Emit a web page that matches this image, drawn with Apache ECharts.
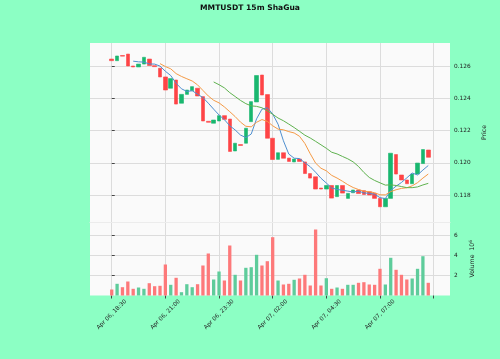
<!DOCTYPE html>
<html><head><meta charset="utf-8">
<script src="https://cdn.jsdelivr.net/npm/echarts@6/dist/echarts.min.js"></script>
<style>html,body{margin:0;padding:0;background:#8cffc4}#c{width:500px;height:359px}</style>
</head><body><div id="c"></div>
<script>
// ---- data ----
const opens = [0.12643,0.12633,0.12665,0.12674,0.12600,0.12594,0.12612,0.12643,0.12602,0.12586,
  0.12532,0.12462,0.12513,0.12369,0.12424,0.12447,0.12462,0.12410,0.12257,0.12245,
  0.12259,0.12292,0.12271,0.12073,0.12113,0.12121,0.12255,0.12377,0.12544,0.12423,
  0.12152,0.12021,0.12062,0.12029,0.12005,0.12023,0.12005,0.11933,0.11913,0.11843,
  0.11837,0.11859,0.11790,0.11859,0.11779,0.11814,0.11831,0.11827,0.11820,0.11810,
  0.11779,0.11727,0.11779,0.12051,0.11924,0.11893,0.11870,0.11930,0.11995,0.12079];
const closes = [0.12633,0.12662,0.12661,0.12600,0.12594,0.12612,0.12654,0.12603,0.12596,0.12532,
  0.12451,0.12522,0.12364,0.12424,0.12451,0.12472,0.12414,0.12259,0.12251,0.12265,
  0.12292,0.12269,0.12070,0.12121,0.12107,0.12214,0.12379,0.12541,0.12420,0.12152,
  0.12020,0.12062,0.12028,0.12008,0.12023,0.12008,0.11933,0.11905,0.11837,0.11837,
  0.11859,0.11781,0.11859,0.11812,0.11810,0.11831,0.11809,0.11803,0.11800,0.11779,
  0.11727,0.11779,0.12059,0.11930,0.11893,0.11870,0.11930,0.11998,0.12082,0.12034];
const lows = [0.12625,0.12623,0.12627,0.12569,0.12586,0.12580,0.12600,0.12581,0.12588,0.12526,
  0.12383,0.12400,0.12341,0.12361,0.12408,0.12439,0.12389,0.12253,0.12153,0.12203,
  0.12240,0.12259,0.12067,0.12067,0.12091,0.12110,0.12253,0.12364,0.12348,0.12131,
  0.11955,0.11975,0.12005,0.11975,0.11955,0.11955,0.11924,0.11893,0.11738,0.11819,
  0.11794,0.11769,0.11781,0.11794,0.11769,0.11806,0.11794,0.11794,0.11744,0.11769,
  0.11679,0.11690,0.11775,0.11918,0.11881,0.11862,0.11862,0.11918,0.11986,0.11998];
const highs = [0.12656,0.12689,0.12693,0.12681,0.12617,0.12627,0.12668,0.12651,0.12619,0.12643,
  0.12538,0.12534,0.12519,0.12439,0.12496,0.12503,0.12478,0.12447,0.12302,0.12296,
  0.12309,0.12317,0.12327,0.12135,0.12141,0.12253,0.12420,0.12596,0.12555,0.12433,
  0.12160,0.12079,0.12091,0.12060,0.12060,0.12048,0.12029,0.11955,0.11924,0.11862,
  0.11874,0.11868,0.11874,0.11868,0.11825,0.11843,0.11881,0.11843,0.11837,0.11819,
  0.11831,0.11794,0.12083,0.12083,0.11936,0.11905,0.11936,0.12060,0.12152,0.12162];
const volumes = [0.6,1.17,0.83,1.4,0.67,0.8,0.67,1.23,0.93,0.97,
  3.1,1.07,1.77,0.33,1.13,0.83,1.13,3.0,4.2,1.6,
  2.4,1.5,5.0,2.07,1.5,2.77,2.83,4.07,3.0,3.43,
  5.83,1.5,1.1,1.17,1.57,1.7,2.07,1.0,6.6,1.0,
  1.73,0.67,0.8,0.67,1.07,1.07,1.27,1.33,1.1,1.07,
  2.67,1.1,3.77,2.57,2.07,1.6,1.7,2.67,3.93,1.27];
const tickIndex = [0,10,20,30,40,50,60];
const tickLabels = ['Apr 06, 18:30','Apr 06, 21:00','Apr 06, 23:30','Apr 07, 02:00','Apr 07, 04:30','Apr 07, 07:00',''];
const priceTicks = [0.118,0.120,0.122,0.124,0.126];
const volumeTicks = [2,4,6];
const maPeriods = [5,10,20];
const maColors = ['#4f8fcf','#f59a45','#5fb24f'];

// ---- build ----
const UP='#19b76f', DOWN='#fe4446', VUP='#5ecc9b', VDOWN='#fd797a', WICK='#8c8c8c';
const n = closes.length;
const wickData = [], bodyData = [], volData = [];
for (let i=0;i<n;i++){
  wickData.push([i, lows[i], highs[i], lows[i], highs[i]]);
  const up = closes[i] >= opens[i];
  bodyData.push({value:[i, opens[i], closes[i], Math.min(opens[i],closes[i]), Math.max(opens[i],closes[i])]});
  volData.push({value:[i, volumes[i]], itemStyle:{color: up?VUP:VDOWN}});
}
function ma(p){
  const out=[];
  for(let i=p-1;i<n;i++){let s=0;for(let k=i-p+1;k<=i;k++)s+=closes[k];out.push([i,s/p]);}
  return out;
}
const font='DejaVu Sans';
const gridLine={show:true,lineStyle:{color:'#dcdcdc',width:1}};
const xMin=-4.05, xMax=63.05;
const series=[
  {type:'candlestick',xAxisIndex:0,yAxisIndex:0,data:wickData,encode:{x:0,y:[1,2,3,4]},barWidth:1,
   itemStyle:{color:WICK,color0:WICK,borderColor:WICK,borderColor0:WICK,borderWidth:0},silent:true,z:2},
  {type:'candlestick',xAxisIndex:0,yAxisIndex:0,data:bodyData,encode:{x:0,y:[1,2,3,4]},barWidth:4,
   itemStyle:{color:UP,color0:DOWN,borderColor:UP,borderColor0:DOWN,borderWidth:0.6},silent:true,z:3},
  {type:'bar',xAxisIndex:1,yAxisIndex:1,data:volData,barWidth:3.3,silent:true}
];
maPeriods.forEach((p,k)=>series.push({type:'line',xAxisIndex:0,yAxisIndex:0,data:ma(p),showSymbol:false,
  lineStyle:{width:1,color:maColors[k]},silent:true,z:4}));

const chart=echarts.init(document.getElementById('c'),null,{renderer:'canvas'});
chart.setOption({
  animation:false,
  backgroundColor:'#8cffc4',
  title:{text:'MMTUSDT 15m ShaGua',left:'center',top:-1,textStyle:{fontFamily:font,fontSize:7.6,fontWeight:'bold',color:'#111'}},
  grid:[
    {left:90,right:50,top:43,height:179,show:true,backgroundColor:'#fafafa',borderWidth:0},
    {left:90,right:50,top:222,height:73.5,show:true,backgroundColor:'#fafafa',borderWidth:0}
  ],
  xAxis:[
    {type:'value',gridIndex:0,min:xMin,max:xMax,axisLabel:{show:false},
     axisTick:{show:false,customValues:tickIndex},splitLine:gridLine,
     axisLine:{show:true,lineStyle:{color:'#ececec',width:1}}},
    {type:'value',gridIndex:1,min:xMin,max:xMax,
     axisLabel:{customValues:tickIndex.slice(0,6),rotate:45,margin:19,align:'center',verticalAlign:'middle',
       fontFamily:font,fontSize:5.8,color:'#222',
       formatter:v=>tickLabels[tickIndex.indexOf(Math.round(v))]||''},
     axisTick:{show:true,customValues:tickIndex,length:3,lineStyle:{color:'#444'}},
     splitLine:gridLine,axisLine:{show:false}}
  ],
  yAxis:[
    {type:'value',gridIndex:0,position:'right',min:0.116326,max:0.127426,
     axisLabel:{customValues:priceTicks,fontFamily:font,fontSize:5.8,color:'#222',margin:4,formatter:v=>v.toFixed(3)},
     axisTick:{show:true,customValues:priceTicks,length:3,lineStyle:{color:'#444'}},
     axisLine:{show:false},splitLine:gridLine,
     name:'Price',nameLocation:'middle',nameGap:21,nameTextStyle:{fontFamily:font,fontSize:6.2,color:'#222'}},
    {type:'value',gridIndex:1,position:'right',min:0,max:7.35,
     axisLabel:{customValues:volumeTicks,fontFamily:font,fontSize:5.8,color:'#222',margin:4},
     axisTick:{show:true,customValues:volumeTicks,length:3,lineStyle:{color:'#444'}},
     axisLine:{show:false},splitLine:gridLine,
     name:'Volume  10{s|6}',nameLocation:'middle',nameGap:12,
     nameTextStyle:{fontFamily:font,fontSize:6.2,color:'#222',rich:{s:{fontFamily:font,fontSize:4.4,color:'#222',verticalAlign:'bottom',padding:[0,0,3,0]}}}}
  ],
  series:series
});
</script></body></html>
